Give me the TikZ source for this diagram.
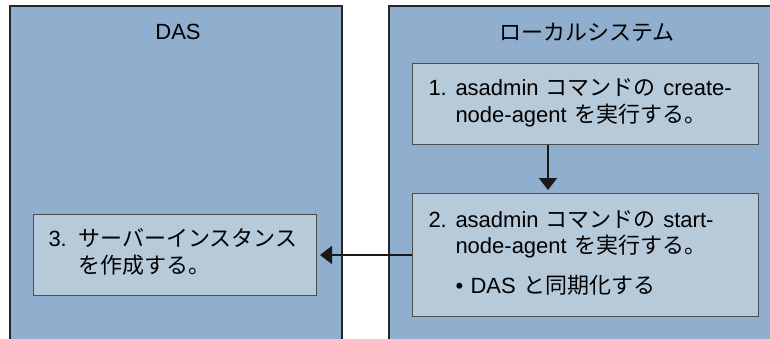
\documentclass[tikz,border=0pt]{standalone}
\usepackage{fontspec}
\setmainfont{Liberation Sans}
\newfontfamily\jp{Noto Sans CJK JP}
\usetikzlibrary{positioning,arrows.meta}

\definecolor{panelblue}{RGB}{144,174,205}
\definecolor{boxblue}{RGB}{182,202,218}

\begin{document}
\begin{tikzpicture}[
      x = 1pt, y = -1pt, % pixel-like units, y going down
      panel/.style = {draw=black!85, line width=2pt, fill=panelblue,
                      anchor=north west, inner sep=0pt},
      stepbox/.style = {draw=black!70, line width=1pt, fill=boxblue,
                        anchor=north west, align=left, minimum height=81pt,
                        font=\fontsize{22}{26.7}\selectfont},
      title/.style = {font=\fontsize{22}{24}\selectfont},
      flow/.style = {line width=1.8pt, draw=black!90,
                     -{Triangle[length=12pt, width=18pt]}, shorten > = 3pt}
  ]

\useasboundingbox (0,0) rectangle (770,339);

% the two systems
\node[panel, minimum width=332pt, minimum height=360pt] (das) at (9,5) {};
\node[panel, minimum width=400pt, minimum height=360pt] (local) at (388,5) {};

\node[title] (dastitle) at (178,32) {DAS};
\node[title] (localtitle) at (587,32) {\jp ローカルシステム};

% steps
\node[stepbox, inner xsep=16pt, text width=314pt] (create) at (412,63)
  {\begin{tabular}{@{}p{27pt}@{}l@{}}
   1. & asadmin {\jp コマンドの} create-\\
      & node-agent {\jp を実行する。}
   \end{tabular}};
\node[stepbox, inner xsep=16pt, text width=314pt, minimum height=123pt] (start) at (412,193)
  {\begin{tabular}{@{}p{27pt}@{}l@{}}
   2. & asadmin {\jp コマンドの} start-\\
      & node-agent {\jp を実行する。}\\[13pt]
      & \textbullet\ DAS {\jp と同期化する}
   \end{tabular}};
\node[stepbox, inner xsep=15pt, text width=253pt] (server) at (33,214)
  {\begin{tabular}{@{}p{30pt}@{}l@{}}
   3. & {\jp サーバーインスタンス}\\
      & {\jp を作成する。}
   \end{tabular}};

% connectors
\coordinate (drop) at (548,0);
\draw[flow] (create.south -| drop) -- (start.north -| drop);
\draw[flow] (start.west) -- (server.east);

\end{tikzpicture}
\end{document}
